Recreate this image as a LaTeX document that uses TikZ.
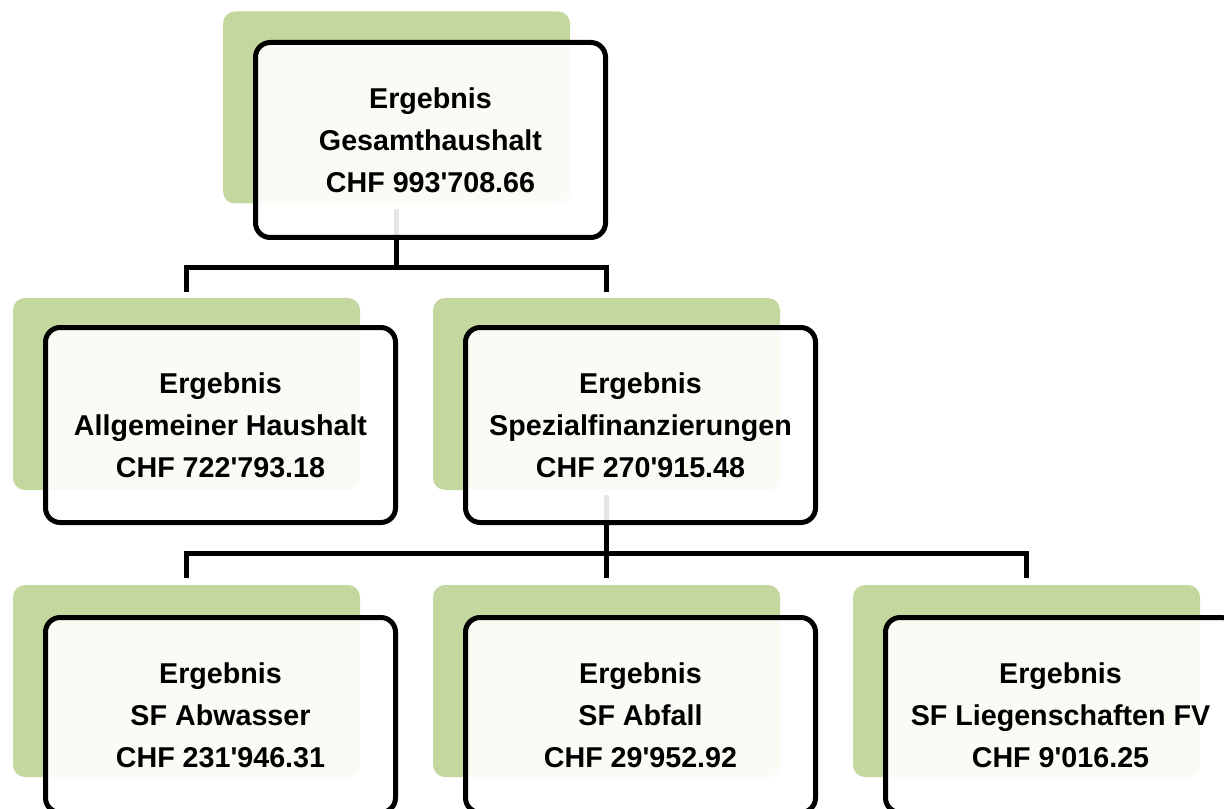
\documentclass[tikz,border=0pt]{standalone}
\usepackage{fontspec}
\setmainfont{Liberation Sans}
\usepackage{xcolor}
\usetikzlibrary{calc}
\definecolor{leafgreen}{HTML}{C4D79E}
\newcommand{\tick}{\textquotesingle}

\begin{document}
\begin{tikzpicture}[
            x=0.75pt, y=-0.75pt,
            backbox/.style={rectangle, fill=leafgreen, rounded corners=9pt,
                            minimum width=260.25pt, minimum height=144pt, inner sep=0pt},
            frontbox/.style={rectangle, draw=black, line width=3.75pt, fill=white,
                             fill opacity=0.9, text opacity=1, rounded corners=11pt,
                             minimum width=262.5pt, minimum height=146.25pt,
                             align=center, font=\bfseries\fontsize{21.5}{31.5}\selectfont},
            link/.style={black, line width=3.75pt}
        ]

        \useasboundingbox (0,0) rectangle (1224,809);
        \clip (0,0) rectangle (1224,809);

        % ===== GREEN BACKS =====
        \node[backbox] (gtotal) at (396.5,107.5) {};
        \node[backbox] (galg) at (186.5,394) {};
        \node[backbox] (gspez) at (606.5,394) {};
        \node[backbox] (gabw) at (186.5,681) {};
        \node[backbox] (gabf) at (606.5,681) {};
        \node[backbox] (gimmo) at (1026.5,681) {};

        % ===== FORKS =====
        \coordinate (fork1) at (396.5,268);
        \coordinate (fork2) at (606.5,553.5);

        % stub ends just below / above the green backs
        \coordinate (total_out) at ($(gtotal.south)+(0,5)$);
        \coordinate (spez_out) at ($(gspez.south)+(0,5)$);
        \coordinate (alg_in) at ($(galg.north)+(0,-6)$);
        \coordinate (spez_in) at ($(gspez.north)+(0,-6)$);
        \coordinate (abw_in) at ($(gabw.north)+(0,-7)$);
        \coordinate (abf_in) at ($(gabf.north)+(0,-7)$);
        \coordinate (immo_in) at ($(gimmo.north)+(0,-7)$);

        % ===== CONNECTORS =====
        \draw[link] (total_out) -- (fork1);
        \draw[link] (fork1) -| (alg_in);
        \draw[link] (fork1) -| (spez_in);

        \draw[link] (spez_out) -- (fork2);
        \draw[link] (fork2) -| (abw_in);
        \draw[link] (fork2) -| (abf_in);
        \draw[link] (fork2) -| (immo_in);

        % ===== FRONT BOXES (drawn over the lines) =====
        \node[frontbox] (total) at ($(gtotal)+(34,32.5)$) {Ergebnis\\Gesamthaushalt\\CHF 993\tick708.66};
        \node[frontbox] (alg) at ($(galg)+(34,31)$) {Ergebnis\\Allgemeiner Haushalt\\CHF 722\tick793.18};
        \node[frontbox] (spez) at ($(gspez)+(34,31)$) {Ergebnis\\Spezialfinanzierungen\\CHF 270\tick915.48};
        \node[frontbox] (abw) at ($(gabw)+(34,34)$) {Ergebnis\\SF Abwasser\\CHF 231\tick946.31};
        \node[frontbox] (abf) at ($(gabf)+(34,34)$) {Ergebnis\\SF Abfall\\CHF 29\tick952.92};
        \node[frontbox] (immo) at ($(gimmo)+(34,34)$) {Ergebnis\\SF Liegenschaften FV\\CHF 9\tick016.25};

        \end{tikzpicture}
\end{document}
